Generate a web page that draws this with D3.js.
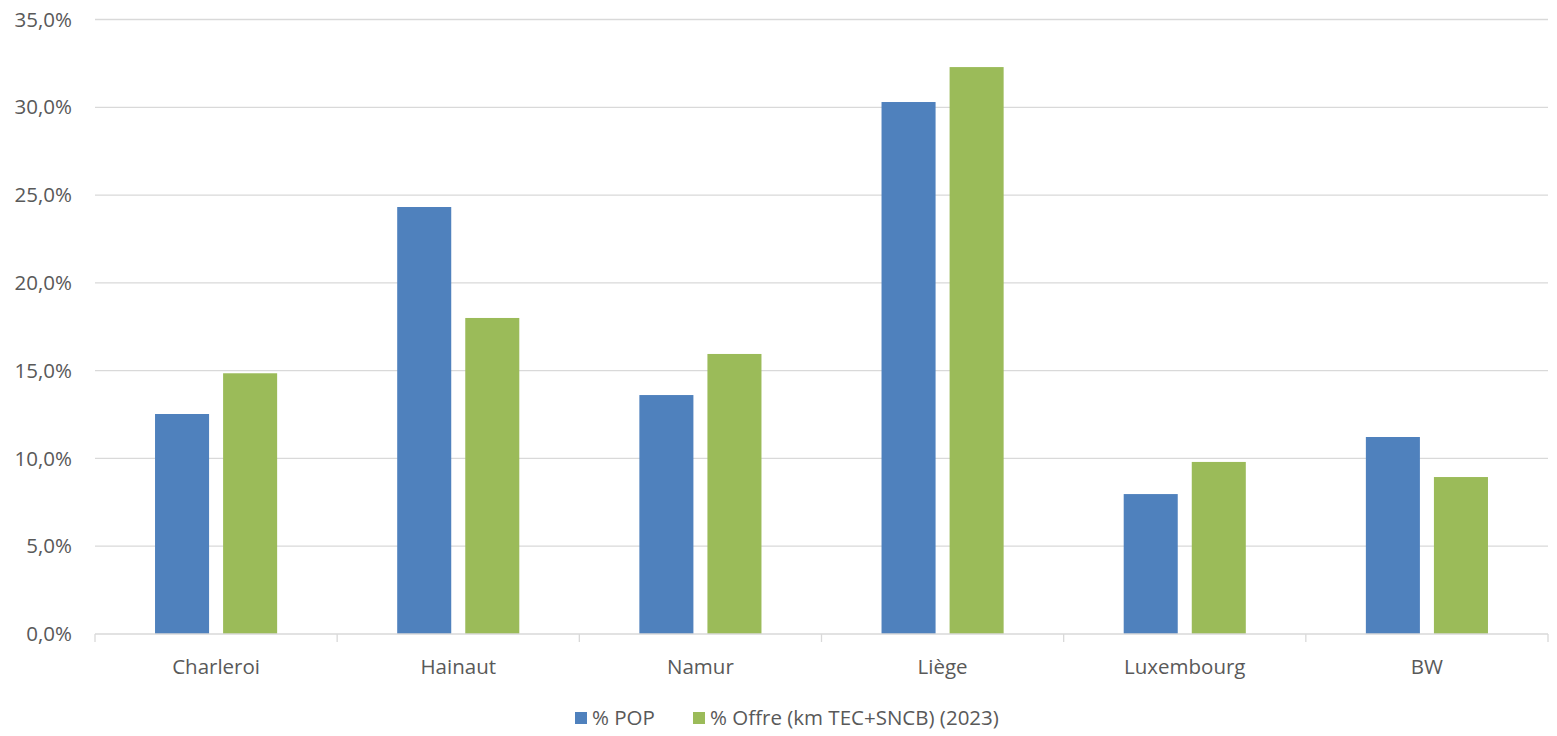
<!DOCTYPE html>
<html>
<head>
<meta charset="utf-8">
<script src="https://cdn.jsdelivr.net/npm/d3@7"></script>
<style>
  html, body { margin: 0; padding: 0; background: #fff; }
  #graph { width: 1557px; height: 736px; }
  text { font-family: "Open Sans", Lato, sans-serif; fill: #595959; }
</style>
</head>
<body>
<div id="graph"></div>
<script>
// data
const categories = ["Charleroi", "Hainaut", "Namur", "Liège", "Luxembourg", "BW"];
const series_names = ["% POP", "% Offre (km TEC+SNCB) (2023)"];
const pop_values = [12.53, 24.32, 13.61, 30.30, 7.97, 11.22];
const offre_values = [14.85, 18.00, 15.95, 32.29, 9.80, 8.94];
const y_ticks = [0, 5, 10, 15, 20, 25, 30, 35];
const colors = ["#4f81bd", "#9bbb59"];

const width = 1557, height = 736;
const margin = {left: 95, right: 9, top: 19.5, bottom: 102};
const font_size = 20.5;

const svg = d3.select('#graph').append('svg')
  .attr('width', width)
  .attr('height', height);

const x0 = d3.scaleBand()
  .domain(categories)
  .range([margin.left, width - margin.right])
  .padding(0);

const x1 = d3.scaleBand()
  .domain(series_names)
  .range([0, x0.bandwidth()])
  .paddingInner(0.206)
  .paddingOuter(0.882);

const y = d3.scaleLinear()
  .domain([0, 35])
  .range([height - margin.bottom, margin.top]);

const fmt = v => v.toFixed(1).replace('.', ',') + '%';

// gridlines
svg.append('g')
  .selectAll('line')
  .data(y_ticks.filter(d => d > 0))
  .join('line')
  .attr('x1', margin.left)
  .attr('x2', width - margin.right)
  .attr('y1', d => y(d))
  .attr('y2', d => y(d))
  .attr('stroke', '#d9d9d9')
  .attr('stroke-width', 1.3);

// y labels
svg.append('g')
  .selectAll('text')
  .data(y_ticks)
  .join('text')
  .attr('x', 72)
  .attr('y', d => y(d))
  .attr('dy', '0.35em')
  .attr('text-anchor', 'end')
  .attr('font-size', font_size)
  .text(fmt);

// bars
const rows = categories.map((c, i) => ({cat: c, vals: [pop_values[i], offre_values[i]]}));
const groups = svg.append('g')
  .selectAll('g')
  .data(rows)
  .join('g')
  .attr('transform', d => `translate(${x0(d.cat)},0)`);

groups.selectAll('rect')
  .data(d => d.vals.map((v, j) => ({name: series_names[j], v: v, j: j})))
  .join('rect')
  .attr('x', d => x1(d.name))
  .attr('width', x1.bandwidth())
  .attr('y', d => y(d.v))
  .attr('height', d => y(0) - y(d.v))
  .attr('fill', d => colors[d.j]);

// x axis
const axis = svg.append('g').attr('transform', `translate(0,${y(0)})`);
axis.append('line')
  .attr('x1', margin.left).attr('x2', width - margin.right)
  .attr('stroke', '#d9d9d9').attr('stroke-width', 1.3);
axis.selectAll('.tk')
  .data(categories.map(c => x0(c)).concat([width - margin.right]))
  .join('line')
  .attr('class', 'tk')
  .attr('x1', d => d).attr('x2', d => d)
  .attr('y1', 0).attr('y2', 8)
  .attr('stroke', '#d9d9d9').attr('stroke-width', 1.3);
axis.selectAll('text')
  .data(categories)
  .join('text')
  .attr('x', d => x0(d) + x0.bandwidth() / 2)
  .attr('y', 33)
  .attr('dy', '0.35em')
  .attr('text-anchor', 'middle')
  .attr('font-size', font_size)
  .text(d => d);

// legend
const legend = svg.append('g').attr('transform', 'translate(575,718)');
const legend_x = [0, 118];
series_names.forEach((s, i) => {
  legend.append('rect')
    .attr('x', legend_x[i]).attr('y', -6)
    .attr('width', 12).attr('height', 12)
    .attr('fill', colors[i]);
  legend.append('text')
    .attr('x', legend_x[i] + 17).attr('y', 0)
    .attr('dy', '0.35em')
    .attr('font-size', font_size)
    .text(s);
});
</script>
</body>
</html>
